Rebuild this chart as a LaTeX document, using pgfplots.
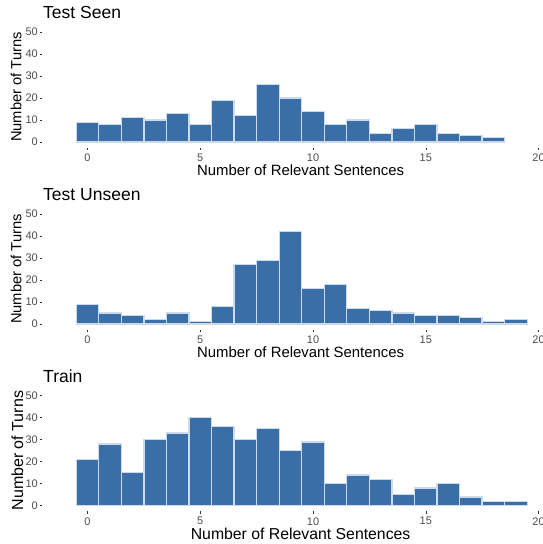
\documentclass[border=0pt]{standalone}
\usepackage{fontspec}
\setmainfont{Liberation Sans}
\usepackage{pgfplots}
\pgfplotsset{compat=1.18}
\definecolor{barblue}{RGB}{58,110,166}
\definecolor{baredge}{RGB}{205,218,236}
\definecolor{ticklab}{RGB}{77,77,77}
\definecolor{tickcol}{RGB}{51,51,51}
\pgfplotsset{
  hist/.style={
    scale only axis, width=516.4pt, height=121pt,
    xmin=-2, xmax=20.9, ymin=-2.5, ymax=52.5,
    axis lines*=left, axis line style={draw=none},
    xtick={0,5,10,15,20}, ytick={0,10,20,30,40,50},
    tick align=outside, major tick length=2.6pt,
    tick style={tickcol, line width=0.5pt},
    /pgf/number format/assume math mode=true,
    ticklabel style={font=\fontsize{11}{13}\selectfont, text=ticklab},
    yticklabel style={xshift=1.5pt},
    title style={anchor=base west, inner sep=0pt, font=\fontsize{17.5}{20}\selectfont},
    xlabel style={anchor=base, inner sep=0pt},
    ylabel style={anchor=base, inner sep=0pt},
    xlabel={Number of Relevant Sentences},
    ylabel={Number of Turns},
  },
  bars/.style={ybar, bar width=1, bar shift=0pt, fill=barblue, draw=baredge, line width=1.3pt},
}
\begin{document}
\begin{tikzpicture}
\path[use as bounding box] (0,0) rectangle (543pt,-544pt);
% Panel 1
\begin{axis}[hist, at={(42.4pt,-147.5pt)}, anchor=south west,
  title={Test Seen},
  title style={at={(axis description cs:0.0012,1.0206)}},
  xlabel style={at={(axis description cs:0.5,-0.2273)}, font=\fontsize{14.9}{17}\selectfont},
  ylabel style={at={(axis description cs:-0.0405,0.5)}, font=\fontsize{14.7}{17}\selectfont}]
\addplot[bars] coordinates {(0,9)(1,8)(2,11)(3,10)(4,13)(5,8)(6,19)(7,12)(8,26)(9,20)(10,14)(11,8)(12,10)(13,4)(14,6)(15,8)(16,4)(17,3)(18,2)};
\end{axis}
% Panel 2
\begin{axis}[hist, at={(42.4pt,-329.5pt)}, anchor=south west,
  title={Test Unseen},
  title style={at={(axis description cs:0.0012,1.0182)}},
  xlabel style={at={(axis description cs:0.5,-0.2355)}, font=\fontsize{14.9}{17}\selectfont},
  ylabel style={at={(axis description cs:-0.0405,0.5)}, font=\fontsize{14.7}{17}\selectfont}]
\addplot[bars] coordinates {(0,9)(1,5)(2,4)(3,2)(4,5)(5,1)(6,8)(7,27)(8,29)(9,42)(10,16)(11,18)(12,7)(13,6)(14,5)(15,4)(16,4)(17,3)(18,1)(19,2)};
\end{axis}
% Panel 3
\begin{axis}[hist, at={(42.4pt,-511.2pt)}, anchor=south west,
  title={Train},
  title style={at={(axis description cs:0.0012,1.0124)}},
  xlabel style={at={(axis description cs:0.5,-0.234)}, font=\fontsize{15.8}{18}\selectfont},
  ylabel style={at={(axis description cs:-0.0372,0.5)}, font=\fontsize{16}{18}\selectfont}]
\addplot[bars] coordinates {(0,21)(1,28)(2,15)(3,30)(4,33)(5,40)(6,36)(7,30)(8,35)(9,25)(10,29)(11,10)(12,14)(13,12)(14,5)(15,8)(16,10)(17,4)(18,2)(19,2)};
\end{axis}
\end{tikzpicture}
\end{document}
